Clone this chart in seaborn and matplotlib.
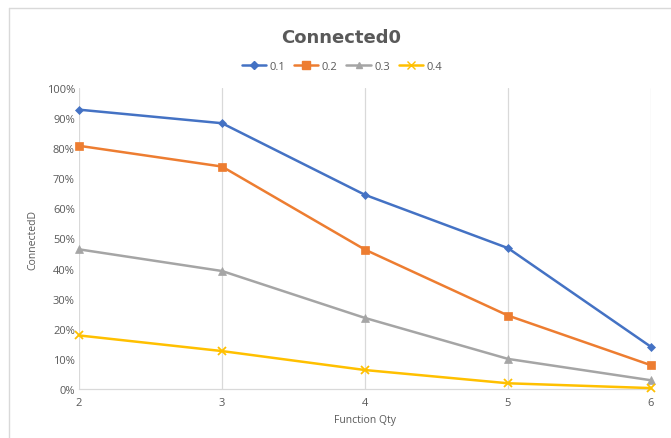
import matplotlib
matplotlib.use("Agg")
import matplotlib.pyplot as plt
import matplotlib.lines as mlines
import pandas as pd
import seaborn as sns

# Data
function_qty = [2, 3, 4, 5, 6]
series_names = ["0.1", "0.2", "0.3", "0.4"]
s01 = [0.928, 0.883, 0.645, 0.468, 0.140]
s02 = [0.808, 0.739, 0.463, 0.244, 0.079]
s03 = [0.464, 0.392, 0.236, 0.100, 0.029]
s04 = [0.178, 0.126, 0.063, 0.019, 0.003]

colors = ["#4472C4", "#ED7D31", "#A5A5A5", "#FFC000"]
markers = ["D", "s", "^", "x"]
marker_sizes = [4, 6, 5.5, 6]

df = pd.concat(
    [pd.DataFrame({"Function Qty": function_qty, "ConnectedD": vals, "series": name})
     for name, vals in zip(series_names, [s01, s02, s03, s04])],
    ignore_index=True,
)

sns.set_theme(style="white")
plt.rcParams["font.family"] = ["Open Sans", "DejaVu Sans"]

W, H = 671, 439
fig = plt.figure(figsize=(W / 100, H / 100), dpi=100)
ax_l, ax_r, ax_t, ax_b = 79, 651, 89, 390
ax = fig.add_axes([ax_l / W, (H - ax_b) / H, (ax_r - ax_l) / W, (ax_b - ax_t) / H])

for name, c, m, ms in zip(series_names, colors, markers, marker_sizes):
    sub = df[df["series"] == name]
    sns.lineplot(data=sub, x="Function Qty", y="ConnectedD", ax=ax, color=c,
                 marker=m, markersize=ms, linewidth=1.8, markeredgecolor=c,
                 markeredgewidth=1.3 if m == "x" else 0.5, legend=False,
                 clip_on=False, zorder=3)

ax.set_xlim(2, 6)
ax.set_ylim(0, 1.0)
ax.set_xticks(function_qty)
ax.set_xticklabels([str(v) for v in function_qty])
yt = [i / 10 for i in range(11)]
ax.set_yticks(yt)
ax.set_yticklabels([f"{int(round(v * 100))}%" for v in yt])

ax.grid(axis="x", color="#D9D9D9", linewidth=0.9)
ax.grid(axis="y", visible=False)
for side in ["top", "right", "left"]:
    ax.spines[side].set_visible(False)
ax.spines["bottom"].set_color("#D9D9D9")
ax.spines["bottom"].set_linewidth(0.9)

ax.tick_params(axis="both", length=0, labelsize=8, colors="#595959")
ax.tick_params(axis="y", pad=3)
ax.tick_params(axis="x", pad=6)

ax.set_xlabel("Function Qty", fontsize=7.5, color="#595959")
ax.set_ylabel("ConnectedD", fontsize=7.5, color="#595959")
ax.xaxis.set_label_coords(0.5, -(421 - ax_b) / (ax_b - ax_t), transform=ax.transAxes)
ax.xaxis.label.set_va("center")
ax.yaxis.set_label_coords(-(ax_l - 33) / (ax_r - ax_l), 0.5, transform=ax.transAxes)
ax.yaxis.label.set_va("center")

fig.text(341 / W, 1 - 38 / H, "Connected0", ha="center", va="center",
         fontsize=13, fontweight="bold", color="#595959",
         family=["DejaVu Sans"])

handles = [mlines.Line2D([], [], color=c, marker=m, markersize=ms * 0.9,
                         markeredgecolor=c, linewidth=1.8, label=n)
           for n, c, m, ms in zip(series_names, colors, markers, marker_sizes)]
fig.legend(handles=handles, loc="center", bbox_to_anchor=(342 / W, 1 - 67 / H),
           ncol=4, frameon=False, fontsize=8, labelcolor="#595959",
           handlelength=2.2, handletextpad=0.3, columnspacing=0.8)

# Outer chart frame
fig.add_artist(mlines.Line2D([9 / W, 1], [1 - 9 / H, 1 - 9 / H],
                             transform=fig.transFigure, color="#D9D9D9", linewidth=1))
fig.add_artist(mlines.Line2D([9 / W, 9 / W], [0, 1 - 9 / H],
                             transform=fig.transFigure, color="#D9D9D9", linewidth=1))

fig.savefig("out.png", dpi=100)
